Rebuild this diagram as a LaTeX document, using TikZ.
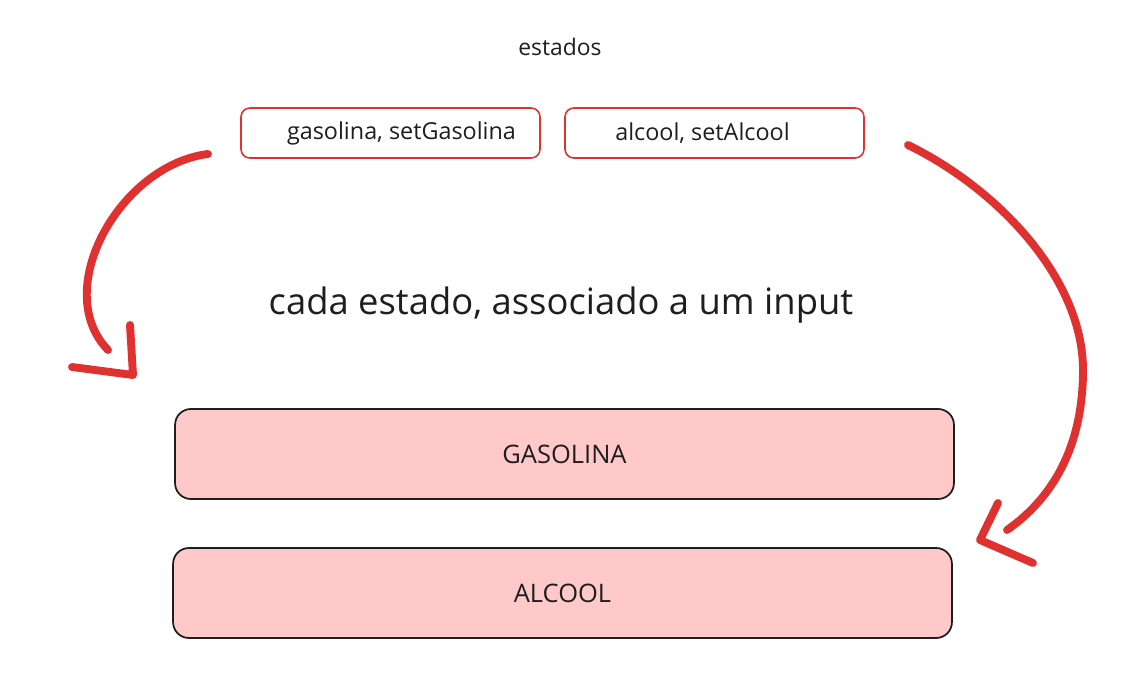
\documentclass[tikz,border=0pt]{standalone}
\usepackage{fontspec}
\setmainfont{Open Sans}
\definecolor{redline}{HTML}{E03131}
\definecolor{pinkfill}{HTML}{FFC9C9}
\definecolor{ink}{HTML}{1E1E1E}
\tikzset{
  statebox/.style={draw=redline, line width=0.9pt, fill=white, rounded corners=5pt,
    minimum width=5.98cm, minimum height=1.0cm, inner sep=0pt, text=ink, font=\fontsize{13.3}{15}\selectfont},
  inputbox/.style={draw=ink, line width=1pt, fill=pinkfill, rounded corners=9pt,
    minimum width=15.58cm, minimum height=1.8cm, inner sep=0pt, text=ink, font=\fontsize{14.5}{16}\selectfont},
  bigarrow/.style={draw=redline, line width=4.5pt, line cap=round, line join=round},
  plain/.style={text=ink, inner sep=0pt}
}
\begin{document}
\begin{tikzpicture}[x=0.02cm,y=-0.02cm]
\useasboundingbox (0,0) rectangle (1147,673);
\node[plain, font=\fontsize{13}{15}\selectfont] (title) at (560,47) {estados};
\node[statebox] (gas) at (390.5,133) {\hspace*{0.44cm}gasolina, setGasolina};
\node[statebox] (alc) at (714.5,133) {alcool, setAlcool\hspace*{0.48cm}};
\node[plain, font=\fontsize{20.7}{24}\selectfont] (caption) at (561,305) {cada estado, associado a um input};
\node[inputbox] (gasin) at (564.5,454) {GASOLINA};
\node[inputbox] (alcin) at (562.5,593) {ALCOOL};
% left arrow
\coordinate (l0) at (208,154);
\coordinate (l1) at (108,350);
\coordinate (lt) at (133,375);
\coordinate (la) at (72,367);
\coordinate (lb) at (130,325);
\draw[bigarrow] (l0) .. controls (120,165) and (50,290) .. (l1);
\draw[bigarrow] (la) -- (lt) -- (lb);
% right arrow
\coordinate (r0) at (908,145);
\coordinate (rm) at (1083,370);
\coordinate (r1) at (1007,530);
\coordinate (rt) at (980,540);
\coordinate (ra) at (998,503);
\coordinate (rb) at (1033,563);
\draw[bigarrow] (r0) .. controls (1000,190) and (1083,280) .. (rm)
                     .. controls (1083,450) and (1050,500) .. (r1);
\draw[bigarrow] (ra) -- (rt) -- (rb);
\end{tikzpicture}
\end{document}
